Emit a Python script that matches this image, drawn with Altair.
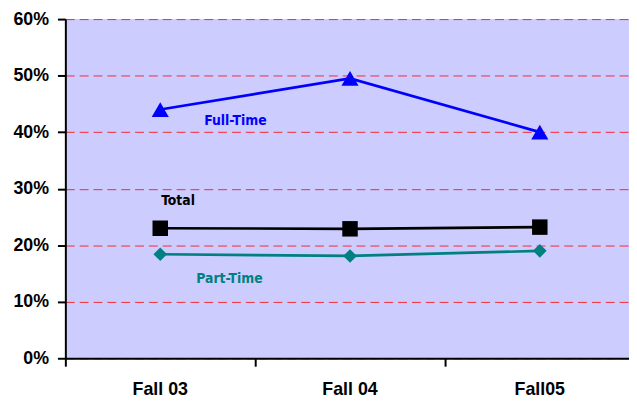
import altair as alt
import pandas as pd

terms = ["Fall 03", "Fall 04", "Fall05"]
series = ["Full-Time", "Total", "Part-Time"]
full_time = [0.44, 0.495, 0.40]
total = [0.23, 0.229, 0.232]
part_time = [0.184, 0.181, 0.19]
y_ticks = [0, 0.1, 0.2, 0.3, 0.4, 0.5, 0.6]

colors = ["#0000FF", "#000000", "#008080"]
shapes = ["triangle-up", "square", "diamond"]

# annotation anchor positions (data units)
label_pos = {"Full-Time": (0.896, 0.42), "Total": (0.594, 0.278), "Part-Time": (0.865, 0.141)}

rows = []
for name, vals in zip(series, [full_time, total, part_time]):
    for i, (t, v) in enumerate(zip(terms, vals)):
        rows.append({"series": name, "term": t, "pos": i + 0.5, "value": v})
df = pd.DataFrame(rows)

lab_df = pd.DataFrame([{"series": s, "lx": label_pos[s][0], "ly": label_pos[s][1]} for s in series])
term_df = pd.DataFrame([{"term": t, "pos": i + 0.5} for i, t in enumerate(terms)])

W, H = 570, 343
xscale = alt.Scale(domain=[0, 2.97], nice=False, zero=False)
yscale = alt.Scale(domain=[0, 0.6], nice=False)
cscale = alt.Scale(domain=series, range=colors)
sscale = alt.Scale(domain=series, range=shapes)
sizescale = alt.Scale(domain=series, range=[300, 190, 330])

xax = alt.Axis(values=[0, 1, 2], labels=False, title=None, grid=False, tickSize=8,
               tickWidth=2, tickColor="black", domainColor="black", domainWidth=2)
yax = alt.Axis(values=y_ticks, format=".0%", title=None, grid=True, gridColor="#FF0000",
               gridDash=[9, 5], gridWidth=1, gridOpacity=0.8, tickSize=8, tickWidth=2,
               tickColor="black", domainColor="black", domainWidth=2, labelFont="Liberation Sans",
               labelFontSize=18, labelFontWeight="bold", labelColor="black", labelPadding=9)

base = alt.Chart(df)
lines = base.mark_line(strokeWidth=2.7).encode(
    x=alt.X("pos:Q", scale=xscale, axis=xax),
    y=alt.Y("value:Q", scale=yscale, axis=yax),
    color=alt.Color("series:N", scale=cscale, legend=None),
    detail="series:N",
)
points = base.mark_point(filled=True, opacity=1).encode(
    x=alt.X("pos:Q", scale=xscale),
    y=alt.Y("value:Q", scale=yscale),
    color=alt.Color("series:N", scale=cscale, legend=None),
    shape=alt.Shape("series:N", scale=sscale, legend=None),
    size=alt.Size("series:N", scale=sizescale, legend=None),
)
labels = alt.Chart(lab_df).mark_text(font="DejaVu Sans Condensed, Liberation Sans", fontSize=14,
                                     fontWeight="bold", align="center", baseline="middle").encode(
    x=alt.X("lx:Q", scale=xscale),
    y=alt.Y("ly:Q", scale=yscale),
    text="series:N",
    color=alt.Color("series:N", scale=cscale, legend=None),
)
xlabels = alt.Chart(term_df).mark_text(font="Liberation Sans", fontSize=18, fontWeight="bold",
                                       align="center", baseline="alphabetic", color="black").encode(
    x=alt.X("pos:Q", scale=xscale),
    y=alt.value(H + 37),
    text="term:N",
)

chart = alt.layer(lines, points, labels, xlabels).properties(
    width=W, height=H,
    autosize=alt.AutoSizeParams(type="none"),
    padding={"left": 58, "top": 9, "right": 0, "bottom": 42},
    background="white",
).configure_view(fill="#CCCCFF", strokeWidth=0)

chart.save("out.html", embed_options={"renderer": "svg", "actions": False})
